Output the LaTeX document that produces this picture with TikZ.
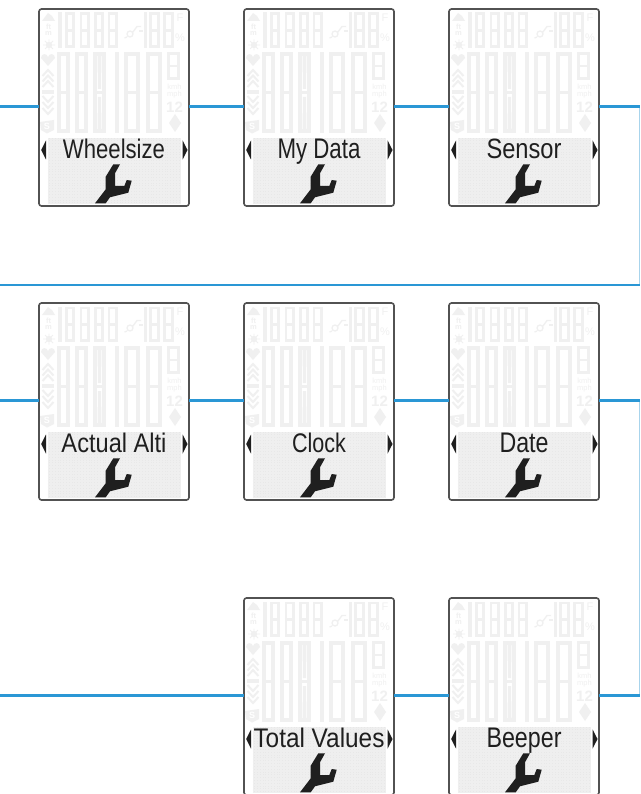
\documentclass[tikz,border=0pt]{standalone}
\usepackage{fontspec}
\usepackage{graphicx}
\setmainfont{Liberation Sans}
\definecolor{ghost}{HTML}{F0F0F0}
\definecolor{panelgray}{HTML}{E8E8E8}
\definecolor{panelgrid}{HTML}{EFEFEF}
\definecolor{lcdink}{HTML}{1F1F1F}
\definecolor{wire}{HTML}{2A97D5}
\definecolor{wirethin}{HTML}{A8D4EC}
\tikzset{
  devbox/.style={draw=black!68,line width=1.6pt,rounded corners=2.5pt,fill=white,minimum width=150pt,minimum height=197pt,inner sep=0pt,outer sep=0pt},
  wireline/.style={draw=wire,line width=2.2pt},
  wirethinline/.style={draw=wirethin,line width=1.2pt},
  seg/.style={draw=ghost,line width=2.6pt},
  ghosttext/.style={text=ghost,inner sep=0pt},
  lcdtext/.style={text=lcdink,inner sep=0pt,anchor=base},
  tri/.style={fill=lcdink,draw=none},
  dotgrid/.style={draw=panelgrid,line width=.3pt,step=1.55pt}
}
\newcommand{\gdigit}[4]{%
  \draw[seg] (#1+1.3,#2+1.3) rectangle (#3-1.3,#4-1.3);
  \draw[seg] (#1,{(#2+#4)/2}) -- (#3,{(#2+#4)/2});}
\newcommand{\gbar}[4]{\fill[ghost] (#1,#2) rectangle (#3,#4);}
\newcommand{\lcd}[5]{%
% #1 name #2 x0 #3 y0 #4 label #5 width
\node[devbox] (#1) at (#2+75,#3+98.5) {};
\begin{scope}[shift={(#2,#3)}]
  \fill[ghost] (3,12)--(9,4)--(13,7)--(16,12)--cycle;
  \node[ghosttext,align=center,font=\bfseries\fontsize{7.5}{6.5}\selectfont] (#1ft) at (9.5,21) {ft\\m};
  \fill[ghost] (10,36) circle (3.2);
  \draw[ghost,line width=.9pt] (4,36)--(16,36) (10,30.5)--(10,41.5) (6,32)--(14,40) (6,40)--(14,32);
  \gbar{19}{3.5}{23}{39}
  \gdigit{26}{3.5}{36}{39}
  \gdigit{40.5}{3.5}{50.5}{39}
  \gdigit{55}{3.5}{65}{39}
  \gdigit{68.5}{3.5}{78.5}{39}
  \draw[ghost,line width=1.3pt] (91,25) circle (3) (94,23)--(98,17.5)--(102,17.5) (88,28)--(85.5,29);
  \gbar{100}{21}{104}{23}
  \gbar{104.5}{3.5}{108}{39}
  \gdigit{110}{3.5}{121}{39}
  \gdigit{124}{3.5}{135}{39}
  \node[ghosttext,font=\fontsize{11}{11}\selectfont] (#1f) at (141,9) {F};
  \node[ghosttext,font=\fontsize{11}{11}\selectfont] (#1pc) at (141,29) {\%};
  \fill[ghost] (9,57)--(2,49)..controls (2,44) and (8,44) .. (9,48) .. controls (10,44) and (16,44) .. (16,49)--cycle;
  \foreach \yy in {61,66.5,72}{\draw[ghost,line width=2pt] (3.5,\yy+6)--(9,\yy)--(14.5,\yy+6);}
  \gbar{3}{81}{15}{85}
  \foreach \yy in {87,93,99}{\draw[ghost,line width=2pt] (3.5,\yy)--(9,\yy+6)--(14.5,\yy);}
  \fill[ghost] (1,113)--(15,111)--(15,121)--(8,124.5)--(2,121)--cycle;
  \node[text=white,inner sep=0pt,font=\bfseries\fontsize{9}{9}\selectfont] (#1s) at (8,117.5) {S};
  \begin{scope}[seg/.append style={line width=3.6pt}]
  \draw[seg] (19.8,44.8) rectangle (29.2,122.2);
  \draw[seg] (18,83.5) -- (31,83.5);
  \draw[seg] (37.8,44.8) rectangle (47.2,122.2);
  \draw[seg] (36,83.5) -- (49,83.5);
  \draw[seg] (55.8,44.8) rectangle (65.2,122.2);
  \draw[seg] (54,83.5) -- (67,83.5);
  \draw[seg] (86.8,44.8) rectangle (99.2,122.2);
  \draw[seg] (85,83.5) -- (101,83.5);
  \draw[seg] (108.8,44.8) rectangle (121.2,122.2);
  \draw[seg] (107,83.5) -- (123,83.5);
  \end{scope}
  \fill[ghost] (58.5,47)--(62.5,47)--(62,80)--(59,80)--cycle (59,88)--(62,88)--(62.5,120)--(58.5,120)--cycle;
  \gbar{76}{43}{80}{124}
  \gdigit{128}{43}{141}{71}
  \node[ghosttext,font=\fontsize{7.5}{7.5}\selectfont] (#1k) at (135.5,77.5) {kmh};
  \node[ghosttext,font=\fontsize{7.5}{7.5}\selectfont] (#1mp) at (135.5,85.7) {mph};
  \node[ghosttext,font=\bfseries\fontsize{15}{15}\selectfont] (#1tw) at (135.5,97.8) {12};
  \fill[ghost] (136,105)--(142,114)--(136,123)--(130,114)--cycle;
  \fill[panelgray] (8.7,128.7) rectangle (141.7,194.3);
  \draw[dotgrid] (8.7,128.7) grid (141.7,194.3);
  \fill[tri] (7,131.5)--(7,150.5)--(2.2,141)--cycle;
  \fill[tri] (143.7,131.5)--(143.7,150.5)--(148.5,141)--cycle;
  \node[lcdtext] (#1lab) at (75,149.5) {\resizebox{#5pt}{19.5pt}{#4}};
  \fill[lcdink] (56,194.3)--(66.7,180.3)--(66.7,167.7)--(74.3,155.3)--(81,155.3)--(76,164.3)--(76,177)--(85.3,177)--(87.7,171)--(92.7,171.7)--(89.3,183.7)--(71,188.3)--(66.7,194.3)--cycle;
\end{scope}}
\begin{document}
\begin{tikzpicture}[x=1pt,y=-1pt]
\useasboundingbox (0,0) rectangle (640,794);
\clip (0,0) rectangle (640,794);
\fill[white] (0,0) rectangle (640,794);
\lcd{wheel}{39}{9}{Wheelsize}{102}
\lcd{mydata}{244}{9}{My Data}{83}
\lcd{sensor}{449}{9}{Sensor}{75}
\lcd{alti}{39}{303}{Actual Alti}{105}
\lcd{clock}{244}{303}{Clock}{54}
\lcd{date}{449}{303}{Date}{49}
\lcd{total}{244}{598}{Total Values}{131}
\lcd{beeper}{449}{598}{Beeper}{75}
\coordinate (aL) at (0,106.5);
\coordinate (aR) at (640,106.5);
\coordinate (bL) at (0,285);
\coordinate (bR) at (640,285);
\coordinate (cL) at (0,400.5);
\coordinate (cR) at (640,400.5);
\coordinate (dL) at (0,695.5);
\coordinate (dR) at (640,695.5);
\draw[wirethinline] ([xshift=-.6pt]aR) -- ([xshift=-.6pt]bR);
\draw[wirethinline] ([xshift=-.6pt]cR) -- ([xshift=-.6pt]dR);
\draw[wireline] (aL) -- (wheel.west |- aL);
\draw[wireline] (wheel.east |- aL) -- (mydata.west |- aL);
\draw[wireline] (mydata.east |- aL) -- (sensor.west |- aL);
\draw[wireline] (sensor.east |- aL) -- (aR);
\draw[wireline] (bL) -- (bR);
\draw[wireline] (cL) -- (alti.west |- cL);
\draw[wireline] (alti.east |- cL) -- (clock.west |- cL);
\draw[wireline] (clock.east |- cL) -- (date.west |- cL);
\draw[wireline] (date.east |- cL) -- (cR);
\draw[wireline] (dL) -- (total.west |- dL);
\draw[wireline] (total.east |- dL) -- (beeper.west |- dL);
\draw[wireline] (beeper.east |- dL) -- (dR);
\end{tikzpicture}
\end{document}
